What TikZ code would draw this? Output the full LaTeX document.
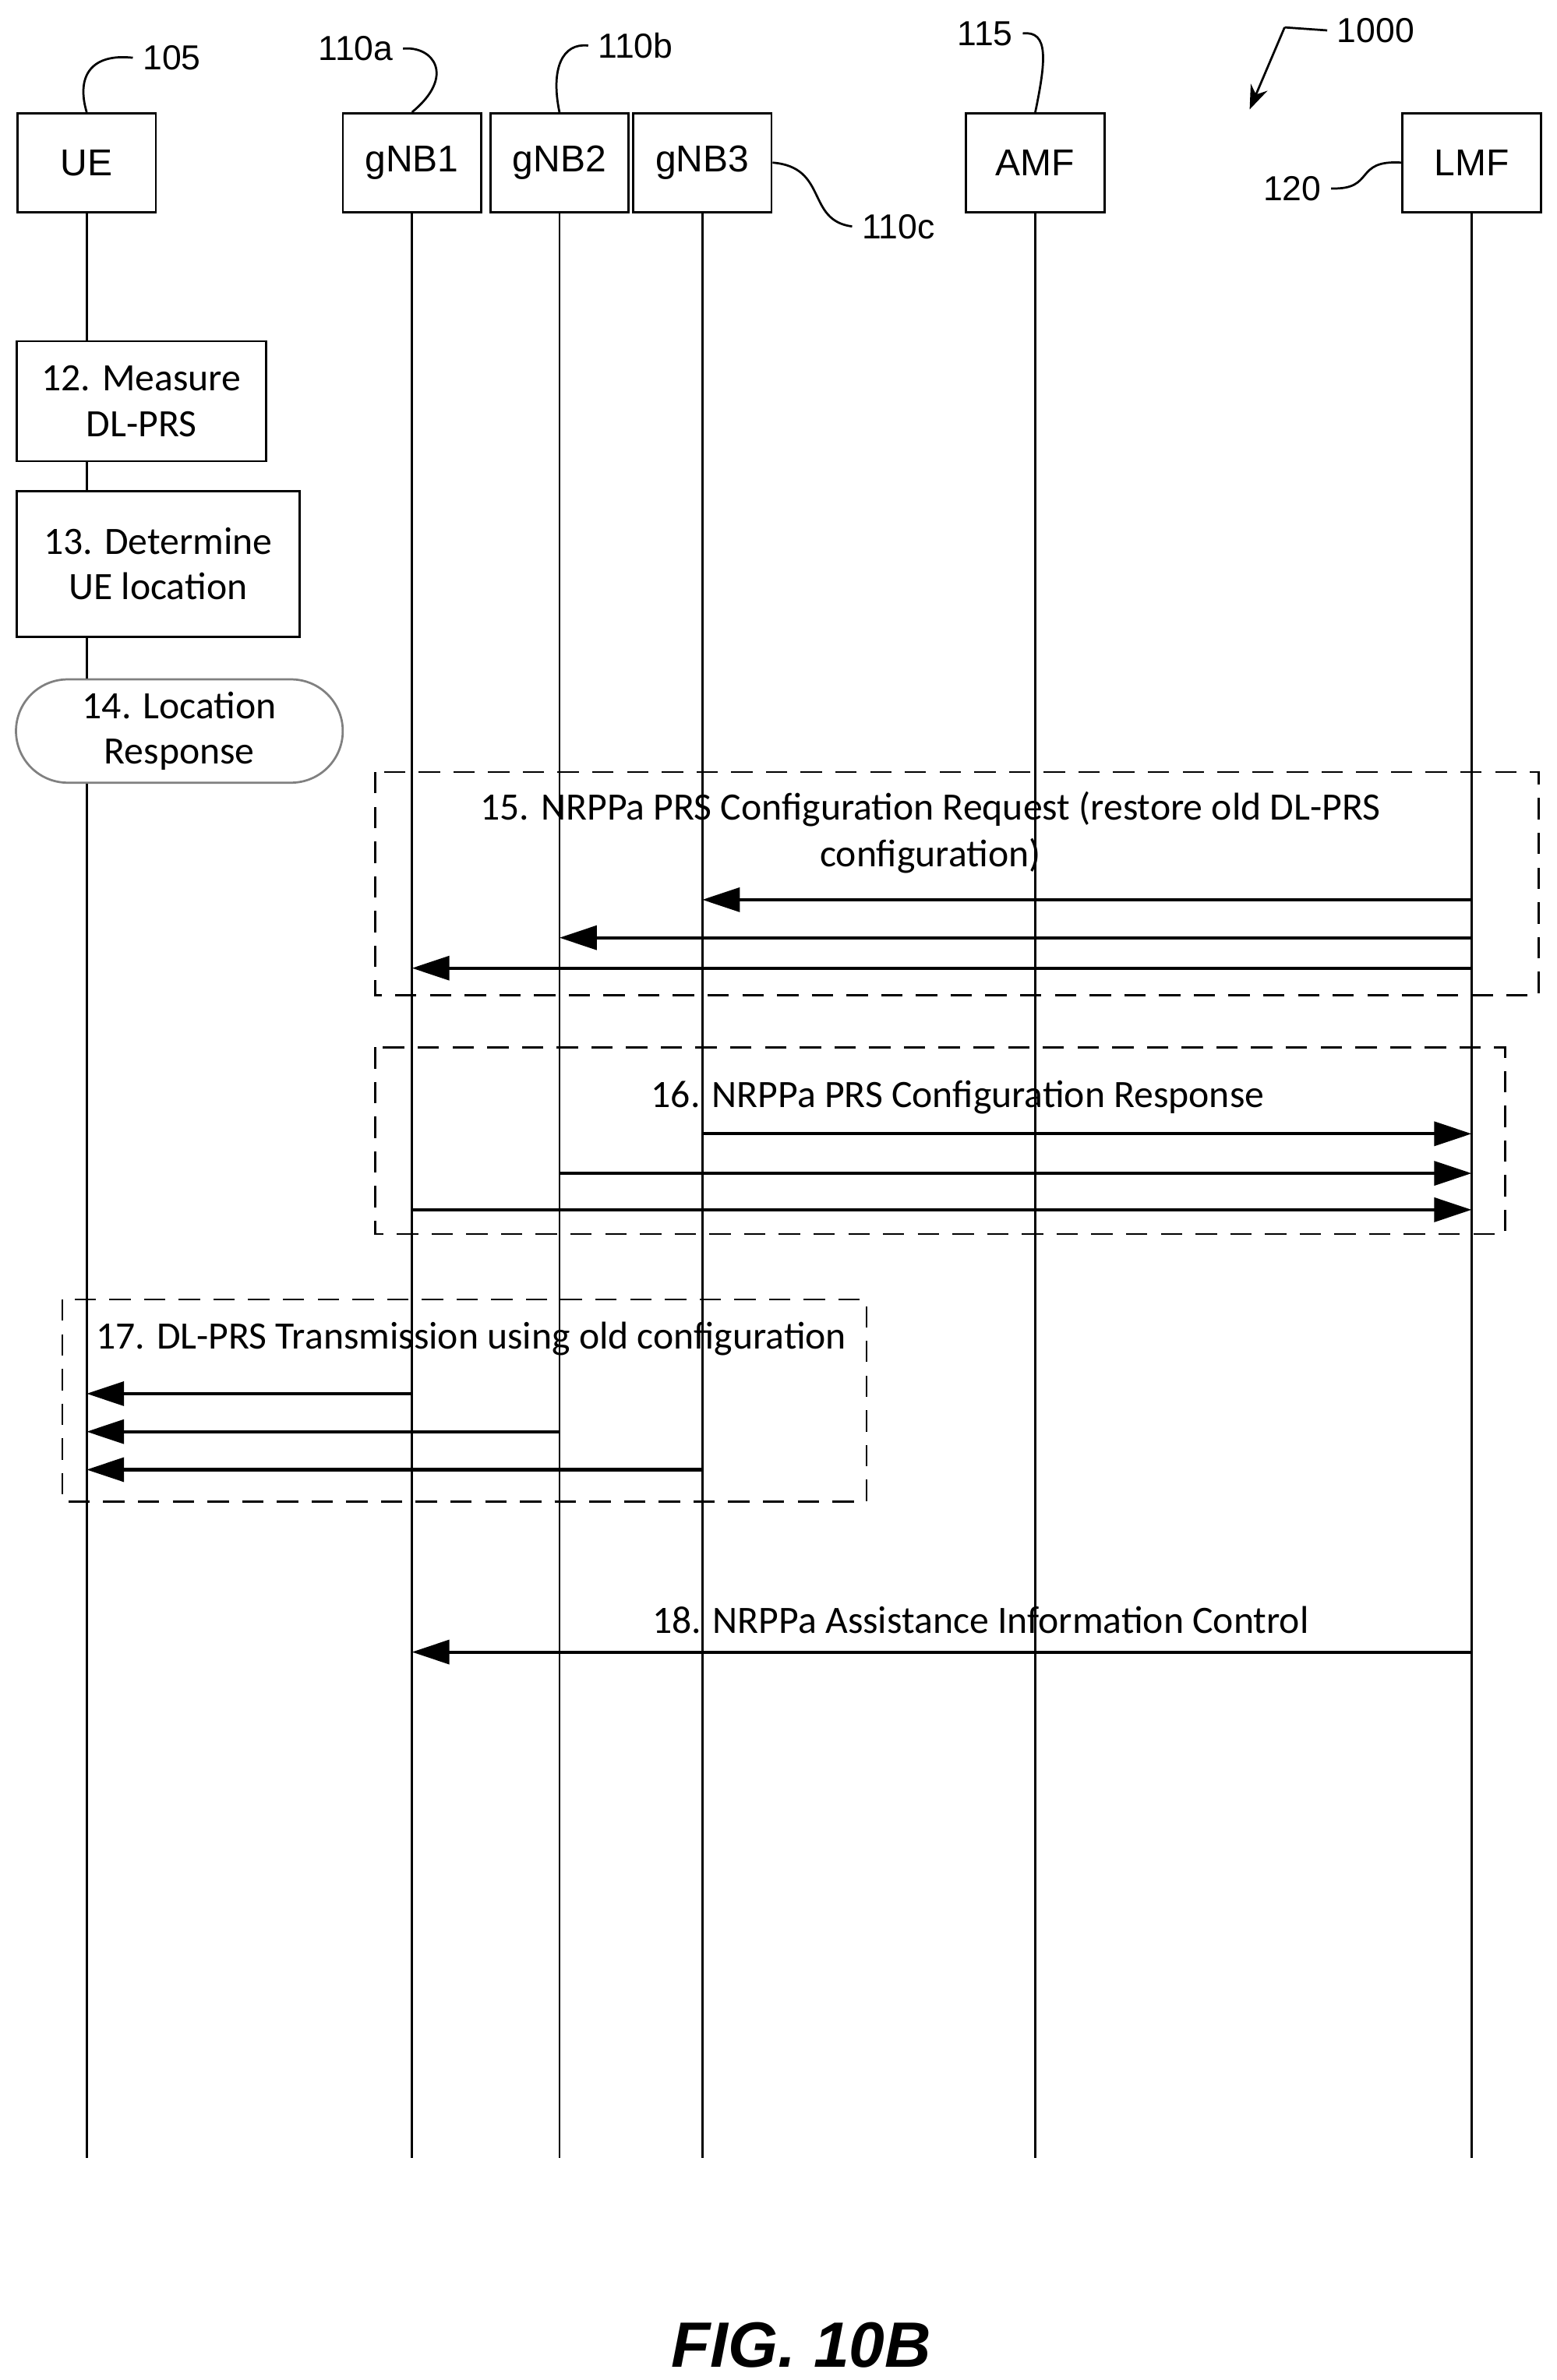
\documentclass[tikz,border=0pt]{standalone}
\usepackage{fontspec}
\setmainfont{Carlito}
\newfontfamily\arialf{Liberation Sans}
\usetikzlibrary{arrows.meta,positioning}

\begin{document}
\begin{tikzpicture}[x=0.02cm,y=-0.02cm,
  thick,
  ent/.style={draw,minimum width=1.82cm,minimum height=1.3cm,font=\arialf\fontsize{14}{16}\selectfont},
  proc/.style={draw,align=center,font=\fontsize{14.5}{17}\selectfont},
  grp/.style={draw,dash pattern=on 8pt off 5pt},
  lbl/.style={font=\fontsize{14.5}{17.5}\selectfont,align=center},
  ref/.style={font=\arialf\fontsize{13}{15}\selectfont},
  msg/.style={-{Triangle[length=14pt,width=9pt]},very thick}]
  \useasboundingbox (0,0) rectangle (1024,1566);

  % entities
  \node[ent] (ue)   at (57,107)  {UE};
  \node[ent] (gnb1) at (271,107) {gNB1};
  \node[ent] (gnb2) at (368,107) {gNB2};
  \node[ent] (gnb3) at (462,107) {gNB3};
  \node[ent] (amf)  at (681,107) {AMF};
  \node[ent] (lmf)  at (968,107) {LMF};

  % local steps
  \node[proc,minimum width=3.28cm,minimum height=1.58cm] (s12) at (93,264) {12. Measure\\DL-PRS};
  \node[proc,minimum width=3.72cm,minimum height=1.92cm] (s13) at (104,371) {13. Determine\\UE location};
  \node[proc,rounded corners=0.68cm,draw=gray,minimum width=4.3cm,minimum height=1.36cm] (s14) at (118,481) {14. Location\\Response};

  % lifelines
  \coordinate (end) at (0,1420);
  \draw (ue.south) -- (ue.south |- s12.north);
  \draw (ue.south |- s12.south) -- (ue.south |- s13.north);
  \draw (ue.south |- s13.south) -- (ue.south |- s14.north);
  \draw (ue.south |- s14.south) -- (ue.south |- end);
  \foreach \n in {gnb1,gnb2,gnb3,amf,lmf}
    \draw (\n.south) -- (\n.south |- end);

  % groups
  \draw[grp] (247,508) rectangle (1012,655);
  \draw[grp] (247,689) rectangle (990,812);
  \draw[grp] (41,855) rectangle (570,988);

  \node[lbl] (m15) at (612,548) {15. NRPPa PRS Configuration Request (restore old DL-PRS\\configuration)};
  \node[lbl] (m16) at (630,722) {16. NRPPa PRS Configuration Response};
  \node[lbl] (m17) at (310,881) {17. DL-PRS Transmission using old configuration};
  \node[lbl] (m18) at (645,1066) {18. NRPPa Assistance Information Control};

  % messages
  \draw[msg] (lmf.south |- 0,592) -- (gnb3.south |- 0,592);
  \draw[msg] (lmf.south |- 0,617) -- (gnb2.south |- 0,617);
  \draw[msg] (lmf.south |- 0,637) -- (gnb1.south |- 0,637);
  \draw[msg] (gnb3.south |- 0,746) -- (lmf.south |- 0,746);
  \draw[msg] (gnb2.south |- 0,772) -- (lmf.south |- 0,772);
  \draw[msg] (gnb1.south |- 0,796) -- (lmf.south |- 0,796);
  \draw[msg] (gnb1.south |- 0,917) -- (ue.south |- 0,917);
  \draw[msg] (gnb2.south |- 0,942) -- (ue.south |- 0,942);
  \draw[msg] (gnb3.south |- 0,967) -- (ue.south |- 0,967);
  \draw[msg] (lmf.south |- 0,1087) -- (gnb1.south |- 0,1087);

  % reference numerals
  \node[ref] (r105) at (113,38) {105};
  \draw (ue.north) .. controls (50,50) and (60,35) .. (r105.west);
  \node[ref] (r110a) at (234,32) {110a};
  \draw (gnb1.north) .. controls (300,50) and (285,30) .. (r110a.east);
  \node[ref] (r110b) at (418,30) {110b};
  \draw (gnb2.north) .. controls (362,45) and (370,28) .. (r110b.west);
  \node[ref] (r115) at (648,22) {115};
  \draw (amf.north) .. controls (688,40) and (690,20) .. (r115.east);
  \node[ref] (r1000) at (905,20) {1000};
  \draw (r1000.west) -- (845,18);
  \draw[-{Stealth[length=9pt]}] (845,18) -- (822,72);
  \node[ref] (r120) at (850,124) {120};
  \draw (r120.east) .. controls (905,125) and (890,105) .. (lmf.west);
  \node[ref] (r110c) at (591,149) {110c};
  \draw (gnb3.east) .. controls (545,110) and (530,145) .. (r110c.west);

  \node[font=\arialf\bfseries\itshape\fontsize{24}{28}\selectfont] (fig) at (527,1543) {FIG. 10B};
\end{tikzpicture}
\end{document}
